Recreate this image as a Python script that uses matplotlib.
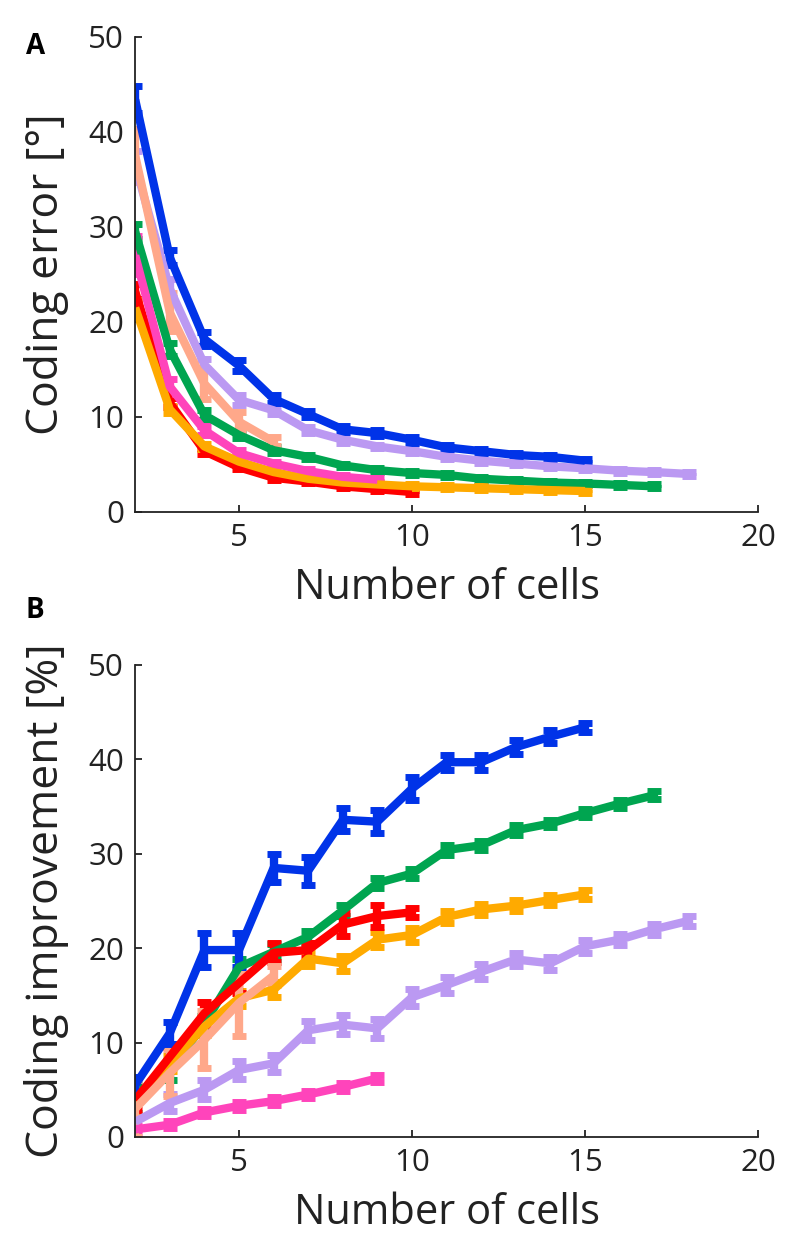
import numpy as np
import matplotlib
matplotlib.use('Agg')
import matplotlib.pyplot as plt

plt.rcParams['font.family'] = ['Open Sans', 'DejaVu Sans']

# colours of the seven groups
c_blue = '#0033e8'
c_lav = '#bb99f2'
c_salmon = '#ffa88a'
c_green = '#00a550'
c_pink = '#ff44bb'
c_red = '#ff0000'
c_orange = '#ffaa00'

# panel A: coding error [deg]
errA_blue = [43.4, 26.8, 18.2, 15.4, 11.9, 10.3, 8.7, 8.3, 7.6, 6.8, 6.4, 6.0, 5.8, 5.4]
errA_lav = [36.5, 23.5, 15.5, 11.8, 10.7, 8.6, 7.6, 6.9, 6.4, 5.8, 5.4, 5.1, 4.8, 4.6, 4.35, 4.2, 4.0]
errA_salmon = [37.5, 21.0, 13.5, 9.5, 7.4]
errA_green = [29.5, 17.1, 10.2, 8.1, 6.5, 5.8, 4.9, 4.4, 4.1, 3.9, 3.5, 3.3, 3.1, 3.0, 2.85, 2.7]
errA_pink = [27.0, 13.2, 8.6, 6.2, 5.1, 4.3, 3.7, 3.4]
errA_red = [23.2, 11.5, 6.4, 4.7, 3.6, 3.2, 2.7, 2.4, 2.1]
errA_orange = [21.5, 10.8, 6.9, 5.3, 4.2, 3.5, 3.1, 2.9, 2.7, 2.6, 2.5, 2.4, 2.3, 2.2]

# panel A error bars (sem)
seA_blue = [1.4, 0.8, 0.7, 0.6, 0.4, 0.3, 0.3, 0.3, 0.3, 0.2, 0.2, 0.2, 0.2, 0.2]
seA_lav = [1.5, 1.0, 0.6, 0.5, 0.4, 0.3, 0.3, 0.2, 0.2, 0.2, 0.2, 0.2, 0.2, 0.2, 0.2, 0.2, 0.2]
seA_salmon = [2.8, 2.0, 1.6, 1.0, 0.5]
seA_green = [0.8, 0.7, 0.5, 0.3, 0.3, 0.2, 0.2, 0.2, 0.2, 0.2, 0.2, 0.2, 0.2, 0.2, 0.2, 0.2]
seA_pink = [2.0, 0.8, 0.5, 0.3, 0.2, 0.2, 0.2, 0.2]
seA_red = [0.8, 0.5, 0.3, 0.2, 0.2, 0.2, 0.2, 0.2, 0.2]
seA_orange = [0.8, 0.4, 0.3, 0.2, 0.2, 0.2, 0.2, 0.2, 0.2, 0.2, 0.2, 0.2, 0.2, 0.2]

# panel B: coding improvement [%]
impB_blue = [5.5, 11.0, 19.8, 19.8, 28.5, 28.2, 33.6, 33.4, 36.9, 39.7, 39.7, 41.3, 42.4, 43.4]
impB_lav = [1.6, 3.6, 5.0, 7.1, 7.8, 11.3, 11.9, 11.5, 14.8, 16.1, 17.5, 18.8, 18.4, 20.2, 20.9, 22.0, 22.9]
impB_salmon = [3.0, 6.8, 10.3, 14.2, 17.1]
impB_green = [4.0, 7.0, 12.0, 18.0, 19.6, 21.2, 24.0, 26.9, 27.9, 30.4, 30.9, 32.5, 33.2, 34.3, 35.3, 36.2]
impB_pink = [0.8, 1.3, 2.6, 3.3, 3.8, 4.5, 5.3, 6.2]
impB_red = [3.9, 8.5, 13.1, 16.3, 19.5, 19.8, 22.5, 23.4, 23.8]
impB_orange = [3.1, 7.8, 11.7, 14.7, 15.6, 18.9, 18.4, 20.9, 21.4, 23.3, 24.1, 24.5, 25.1, 25.7]

seB_blue = [0.8, 1.2, 1.8, 1.8, 1.5, 1.5, 1.2, 1.2, 1.2, 0.8, 0.8, 0.7, 0.7, 0.5]
seB_lav = [0.8, 0.9, 1.0, 1.0, 0.9, 1.0, 1.0, 1.0, 0.9, 0.8, 0.8, 0.7, 0.7, 0.7, 0.6, 0.6, 0.5]
seB_salmon = [3.0, 2.5, 3.0, 3.5, 1.0]
seB_green = [1.5, 1.0, 0.8, 0.8, 0.8, 0.6, 0.6, 0.5, 0.5, 0.5, 0.5, 0.5, 0.4, 0.4, 0.4, 0.4]
seB_pink = [0.4, 0.4, 0.4, 0.4, 0.4, 0.4, 0.4, 0.4]
seB_red = [1.0, 1.0, 1.2, 1.0, 1.0, 0.8, 1.2, 1.2, 0.5]
seB_orange = [0.8, 0.8, 0.9, 0.8, 0.8, 0.8, 0.8, 0.8, 0.7, 0.6, 0.6, 0.6, 0.5, 0.5]

groups_A = [(errA_green, seA_green, c_green), (errA_lav, seA_lav, c_lav),
            (errA_red, seA_red, c_red), (errA_orange, seA_orange, c_orange),
            (errA_pink, seA_pink, c_pink), (errA_salmon, seA_salmon, c_salmon),
            (errA_blue, seA_blue, c_blue)]
groups_B = [(impB_green, seB_green, c_green), (impB_lav, seB_lav, c_lav),
            (impB_orange, seB_orange, c_orange), (impB_red, seB_red, c_red),
            (impB_pink, seB_pink, c_pink), (impB_salmon, seB_salmon, c_salmon),
            (impB_blue, seB_blue, c_blue)]

fig = plt.figure(figsize=(8, 12.53), dpi=100)
axA = fig.add_axes([0.169, 0.5914, 0.7785, 0.3791])
axB = fig.add_axes([0.169, 0.0926, 0.7785, 0.3767])


def draw(ax, groups, ylabel):
    for vals, se, col in groups:
        n = np.arange(2, 2 + len(vals))
        ax.errorbar(n, vals, yerr=se, color=col, lw=6, elinewidth=6,
                    capsize=5, capthick=5, solid_capstyle='butt')
    ax.set_xlim(2, 20)
    ax.set_ylim(0, 50)
    ax.set_xticks([5, 10, 15, 20])
    ax.set_yticks([0, 10, 20, 30, 40, 50])
    ax.spines['top'].set_visible(False)
    ax.spines['right'].set_visible(False)
    for s in ['left', 'bottom']:
        ax.spines[s].set_linewidth(1.3)
        ax.spines[s].set_color('#222222')
    ax.tick_params(direction='in', length=5, width=1.3, labelsize=22.5,
                   colors='#222222', pad=8)
    ax.set_xlabel('Number of cells', fontsize=30, color='#222222', labelpad=10)
    ax.set_ylabel(ylabel, fontsize=32, color='#222222', labelpad=14)


draw(axA, groups_A, 'Coding error [°]')
draw(axB, groups_B, 'Coding improvement [%]')

fig.text(0.032, 0.963, 'A', fontsize=20, fontweight='bold', va='center')
fig.text(0.032, 0.513, 'B', fontsize=20, fontweight='bold', va='center')

fig.savefig('out.png', dpi=100)
